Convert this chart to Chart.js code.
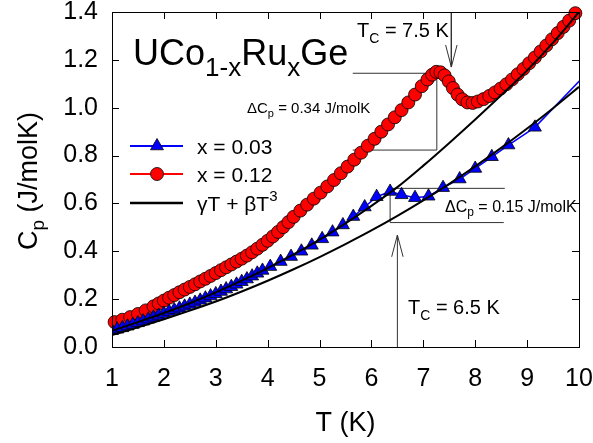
<!DOCTYPE html>
<html>
<head>
<meta charset="utf-8">
<script src="https://cdn.jsdelivr.net/npm/chart.js@4.4.1/dist/chart.umd.min.js"></script>
<style>
  html, body { margin: 0; padding: 0; background: #fff; }
  canvas { display: block; }
</style>
</head>
<body>
<canvas id="cpChart" width="593" height="443"></canvas>
<script>
// x = 0.12 (red circles)
const redT = [1.05, 1.20, 1.35, 1.50, 1.65, 1.80, 1.90, 2.00, 2.10, 2.20, 2.30, 2.40, 2.50, 2.60, 2.70, 2.80,
  2.90, 3.00, 3.10, 3.20, 3.30, 3.40, 3.50, 3.60, 3.70, 3.80, 3.90, 4.00, 4.10, 4.20, 4.30, 4.40, 4.50,
  4.63, 4.76, 4.89, 5.02, 5.15, 5.28, 5.41, 5.54, 5.67, 5.80, 5.93, 6.06, 6.19, 6.32, 6.45, 6.58, 6.71,
  6.84, 6.97, 7.08, 7.17, 7.25, 7.33, 7.41, 7.49, 7.57, 7.66, 7.75, 7.85, 7.95, 8.05, 8.16, 8.27, 8.38,
  8.49, 8.60, 8.71, 8.82, 8.93, 9.04, 9.15, 9.26, 9.37, 9.48, 9.59, 9.70, 9.81, 9.93];
const redCp = [0.104, 0.114, 0.125, 0.138, 0.153, 0.170, 0.182, 0.194, 0.206, 0.217, 0.229, 0.240, 0.251, 0.262, 0.274, 0.285,
  0.297, 0.309, 0.321, 0.333, 0.345, 0.357, 0.369, 0.382, 0.396, 0.411, 0.427, 0.444, 0.462, 0.481, 0.501, 0.522, 0.544,
  0.570, 0.595, 0.620, 0.645, 0.671, 0.698, 0.726, 0.754, 0.783, 0.812, 0.841, 0.870, 0.900, 0.930, 0.960, 0.990, 1.022,
  1.055, 1.090, 1.118, 1.138, 1.150, 1.148, 1.135, 1.110, 1.082, 1.055, 1.035, 1.022, 1.020, 1.026, 1.036, 1.049, 1.064,
  1.080, 1.098, 1.118, 1.140, 1.162, 1.186, 1.210, 1.235, 1.260, 1.286, 1.312, 1.338, 1.364, 1.395];

// x = 0.03 (blue triangles)
const blueT = [1.0, 1.1, 1.2, 1.3, 1.4, 1.5, 1.6, 1.7, 1.8, 1.9, 2.0, 2.1, 2.2, 2.3, 2.4, 2.5, 2.6, 2.7, 2.8, 2.9,
  3.0, 3.1, 3.2, 3.3, 3.4, 3.5, 3.6, 3.7, 3.8, 3.9, 4.05, 4.25, 4.45, 4.65, 4.85, 5.05, 5.25, 5.45, 5.65, 5.87,
  6.10, 6.36, 6.58, 6.84, 7.10, 7.38, 7.70, 8.00, 8.32, 8.64, 9.15, 10.3];
const blueCp = [0.068, 0.074, 0.080, 0.087, 0.094, 0.101, 0.108, 0.116, 0.124, 0.132, 0.140, 0.148, 0.155, 0.162, 0.170, 0.178, 0.186, 0.195, 0.204, 0.213,
  0.222, 0.232, 0.242, 0.252, 0.262, 0.273, 0.284, 0.296, 0.308, 0.320, 0.336, 0.357, 0.378, 0.400, 0.425, 0.452, 0.480, 0.510, 0.545, 0.585,
  0.628, 0.650, 0.636, 0.624, 0.630, 0.666, 0.702, 0.746, 0.795, 0.844, 0.918, 1.178];

// gamma T + beta T^3 curves
const fitT = [1.0, 1.5, 2.0, 2.5, 3.0, 3.5, 4.0, 4.5, 5.0, 5.5, 6.0, 6.5, 7.0, 7.5, 8.0, 8.5, 9.0, 9.5, 10.0];
const fitRedCp = [0.068, 0.104, 0.142, 0.183, 0.228, 0.277, 0.330, 0.387, 0.449, 0.517, 0.590, 0.668, 0.758, 0.853, 0.951, 1.052, 1.156, 1.272, 1.400];
const fitBlueCp = [0.050, 0.082, 0.116, 0.152, 0.190, 0.232, 0.277, 0.325, 0.376, 0.430, 0.487, 0.548, 0.613, 0.682, 0.755, 0.832, 0.913, 0.998, 1.087];

// guide lines and arrows, in data units [T, Cp]
const guideLines = [
  [[5.64, 1.144], [7.26, 1.144]],
  [[5.64, 0.823], [7.26, 0.823]],
  [[7.26, 0.823], [7.26, 1.144]],
  [[6.36, 0.663], [8.57, 0.663]],
  [[6.36, 0.52], [8.55, 0.52]],
  [[6.36, 0.52], [6.36, 0.663]],
  [[7.54, 1.40], [7.54, 1.17]],
  [[7.43, 1.262], [7.54, 1.17], [7.65, 1.262]],
  [[6.5, 0], [6.5, 0.468]],
  [[6.39, 0.377], [6.5, 0.468], [6.61, 0.377]]
];

const xTicks = [1, 2, 3, 4, 5, 6, 7, 8, 9, 10];
const yTicks = [0, 0.2, 0.4, 0.6, 0.8, 1.0, 1.2, 1.4];

const FONT = '"Liberation Sans", Arial, Helvetica, sans-serif';

const pts = (xs, ys) => xs.map((t, i) => ({ x: t, y: ys[i] }));

const datasets = [
  {
    label: 'fit x=0.12', data: pts(fitT, fitRedCp), showLine: true, borderColor: '#000',
    borderWidth: 2, pointRadius: 0, cubicInterpolationMode: 'monotone', order: 0
  },
  {
    label: 'fit x=0.03', data: pts(fitT, fitBlueCp), showLine: true, borderColor: '#000',
    borderWidth: 2, pointRadius: 0, cubicInterpolationMode: 'monotone', order: 0
  },
  {
    label: 'x = 0.03', data: pts(blueT, blueCp), showLine: true, borderColor: '#0000ff', borderWidth: 1.5,
    pointStyle: 'triangle', pointRadius: 7.5, pointBackgroundColor: '#0000ff', pointBorderColor: '#000',
    pointBorderWidth: 0.8, order: 1
  },
  {
    label: 'x = 0.12', data: pts(redT, redCp), showLine: true, borderColor: '#ff0000', borderWidth: 1.5,
    pointStyle: 'circle', pointRadius: 6.5, pointBackgroundColor: '#ff0000', pointBorderColor: '#000',
    pointBorderWidth: 0.8, order: 2, clip: false
  }
];
guideLines.forEach(seg => {
  datasets.push({
    label: 'guide', data: seg.map(p => ({ x: p[0], y: p[1] })), showLine: true,
    borderColor: '#333', borderWidth: 1, pointRadius: 0, order: 3
  });
});

function richText(ctx, parts, x, y, align) {
  let w = 0;
  parts.forEach(p => { ctx.font = p[1] + 'px ' + FONT; w += ctx.measureText(p[0]).width; });
  let cx = align === 'center' ? x - w / 2 : x;
  parts.forEach(p => {
    ctx.font = p[1] + 'px ' + FONT;
    ctx.fillText(p[0], cx, y + (p[2] || 0));
    cx += ctx.measureText(p[0]).width;
  });
}

// frame, inward ticks, titles, labels and legend
const decor = {
  id: 'decor',
  afterDraw(chart) {
    const { ctx, chartArea: a, scales: { x, y } } = chart;
    ctx.save();
    ctx.strokeStyle = '#000';
    ctx.lineWidth = 1;
    ctx.strokeRect(a.left + 0.5, a.top + 0.5, a.right - a.left, a.bottom - a.top);
    ctx.beginPath();
    xTicks.forEach(v => {
      const px = Math.round(x.getPixelForValue(v)) + 0.5;
      ctx.moveTo(px, a.bottom); ctx.lineTo(px, a.bottom - 7);
      ctx.moveTo(px, a.top); ctx.lineTo(px, a.top + 7);
    });
    yTicks.forEach(v => {
      const py = Math.round(y.getPixelForValue(v)) + 0.5;
      ctx.moveTo(a.left, py); ctx.lineTo(a.left + 7, py);
      ctx.moveTo(a.right, py); ctx.lineTo(a.right - 7, py);
    });
    ctx.stroke();

    ctx.fillStyle = '#000';
    ctx.textBaseline = 'alphabetic';
    ctx.textAlign = 'left';

    // axis titles
    richText(ctx, [['T (K)', 27]], (a.left + a.right) / 2, 431, 'center');
    ctx.save();
    ctx.translate(37, 181);
    ctx.rotate(-Math.PI / 2);
    richText(ctx, [['C', 27], ['p', 19, 7], [' (J/molK)', 27]], 0, 0, 'center');
    ctx.restore();

    // compound name
    richText(ctx, [['UCo', 36], ['1-x', 26, 11], ['Ru', 36], ['x', 26, 11], ['Ge', 36]], 133, 65);

    // annotations
    richText(ctx, [['T', 20], ['C', 14, 6], [' = 7.5 K', 20]], 357, 37);
    richText(ctx, [['T', 20], ['C', 14, 6], [' = 6.5 K', 20]], 408, 314);
    richText(ctx, [['\u0394C', 15], ['p', 11, 4], [' = 0.34 J/molK', 15]], 247, 113);
    richText(ctx, [['\u0394C', 16], ['p', 12, 4], [' = 0.15 J/molK', 16]], 445, 212);

    // legend
    const rows = [
      { color: '#0000ff', marker: 'triangle', parts: [['x = 0.03', 21]], cy: 146 },
      { color: '#ff0000', marker: 'circle', parts: [['x = 0.12', 21]], cy: 174 },
      { color: '#000', marker: null, parts: [['\u03B3T + \u03B2T', 21], ['3', 15, -10]], cy: 203 }
    ];
    rows.forEach(r => {
      ctx.strokeStyle = r.color;
      ctx.lineWidth = r.marker ? 2 : 2.5;
      ctx.beginPath();
      ctx.moveTo(130, r.cy); ctx.lineTo(183, r.cy);
      ctx.stroke();
      if (r.marker) {
        ctx.fillStyle = r.color;
        ctx.strokeStyle = '#000';
        ctx.lineWidth = 0.8;
        ctx.beginPath();
        if (r.marker === 'circle') {
          ctx.arc(157, r.cy, 6.5, 0, Math.PI * 2);
        } else {
          const rad = 7.5;
          ctx.moveTo(157, r.cy - rad);
          ctx.lineTo(157 + rad * 0.866, r.cy + rad * 0.5);
          ctx.lineTo(157 - rad * 0.866, r.cy + rad * 0.5);
          ctx.closePath();
        }
        ctx.fill();
        ctx.stroke();
      }
      ctx.fillStyle = '#000';
      richText(ctx, r.parts, 197, r.cy + 8);
    });
    ctx.restore();
  }
};

const ctx = document.getElementById('cpChart').getContext('2d');
new Chart(ctx, {
  type: 'scatter',
  data: { datasets: datasets },
  options: {
    responsive: false,
    animation: false,
    events: [],
    layout: { padding: { top: 12, right: 14, left: 0, bottom: 0 } },
    plugins: { legend: { display: false }, tooltip: { enabled: false } },
    elements: { line: { tension: 0 } },
    scales: {
      x: {
        type: 'linear', min: 1, max: 10,
        grid: { display: false, drawTicks: false }, border: { display: false },
        afterBuildTicks: s => { s.ticks = xTicks.map(v => ({ value: v })); },
        afterFit: s => { s.height = 96; s.paddingLeft = 0; s.paddingRight = 0; },
        ticks: { color: '#000', font: { family: FONT, size: 25 }, padding: 17, maxRotation: 0, autoSkip: false }
      },
      y: {
        type: 'linear', min: 0, max: 1.4,
        grid: { display: false, drawTicks: false }, border: { display: false },
        afterBuildTicks: s => { s.ticks = yTicks.map(v => ({ value: v })); },
        afterFit: s => { s.width = 112; s.paddingTop = 0; s.paddingBottom = 0; },
        ticks: { color: '#000', font: { family: FONT, size: 25 }, padding: 14, callback: v => v.toFixed(1) }
      }
    }
  },
  plugins: [decor]
});
</script>
</body>
</html>
